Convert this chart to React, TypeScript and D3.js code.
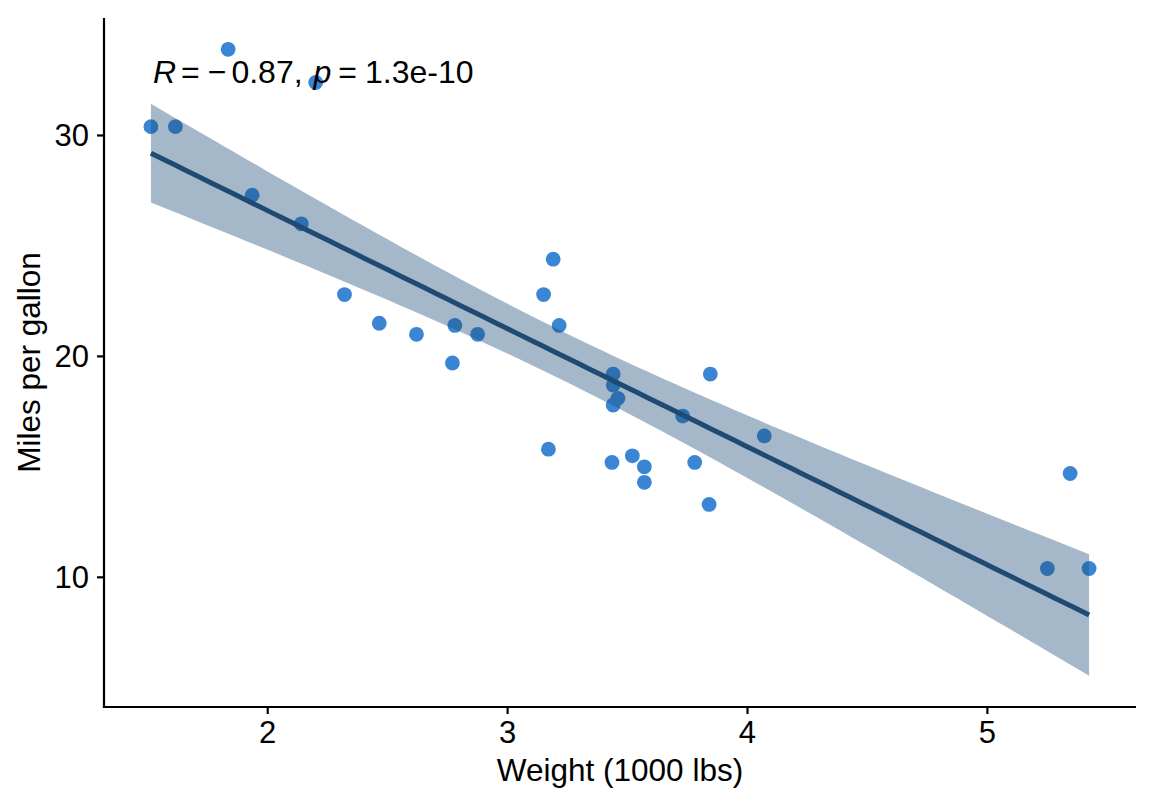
import React from "react";
import * as d3 from "d3";

// mtcars: weight (1000 lbs) and fuel economy (mpg)
const carNames = [
  "Mazda RX4", "Mazda RX4 Wag", "Datsun 710", "Hornet 4 Drive", "Hornet Sportabout",
  "Valiant", "Duster 360", "Merc 240D", "Merc 230", "Merc 280", "Merc 280C",
  "Merc 450SE", "Merc 450SL", "Merc 450SLC", "Cadillac Fleetwood", "Lincoln Continental",
  "Chrysler Imperial", "Fiat 128", "Honda Civic", "Toyota Corolla", "Toyota Corona",
  "Dodge Challenger", "AMC Javelin", "Camaro Z28", "Pontiac Firebird", "Fiat X1-9",
  "Porsche 914-2", "Lotus Europa", "Ford Pantera L", "Ferrari Dino", "Maserati Bora",
  "Volvo 142E",
];
const weights = [
  2.62, 2.875, 2.32, 3.215, 3.44, 3.46, 3.57, 3.19, 3.15, 3.44, 3.44, 4.07, 3.73, 3.78,
  5.25, 5.424, 5.345, 2.2, 1.615, 1.835, 2.465, 3.52, 3.435, 3.84, 3.845, 1.935, 2.14,
  1.513, 3.17, 2.77, 3.57, 2.78,
];
const mpgValues = [
  21.0, 21.0, 22.8, 21.4, 18.7, 18.1, 14.3, 24.4, 22.8, 19.2, 17.8, 16.4, 17.3, 15.2,
  10.4, 10.4, 14.7, 32.4, 30.4, 33.9, 21.5, 15.5, 15.2, 13.3, 19.2, 27.3, 26.0, 30.4,
  15.8, 19.7, 15.0, 21.4,
];
const xTicks = [2, 3, 4, 5];
const yTicks = [10, 20, 30];
const corLabel = { r: "0.87", p: "1.3e-10" };

const W = 1152;
const H = 806;
const margin = { left: 104, right: 16, top: 18, bottom: 99 };
const FONT = "'Liberation Sans', Arial, Helvetica, sans-serif";

// Ordinary least squares fit with a 95% confidence band
const n = weights.length;
const xMean = d3.mean(weights)!;
const yMean = d3.mean(mpgValues)!;
const sxx = d3.sum(weights, (x) => (x - xMean) ** 2);
const sxy = d3.sum(weights, (x, i) => (x - xMean) * (mpgValues[i] - yMean));
const slope = sxy / sxx;
const intercept = yMean - slope * xMean;
const rss = d3.sum(weights, (x, i) => (mpgValues[i] - (intercept + slope * x)) ** 2);
const sigma = Math.sqrt(rss / (n - 2));
const tCrit = 2.042272; // t(0.975, df = 30)

const [xMin, xMax] = d3.extent(weights) as [number, number];
const fitX = d3.range(80).map((i) => xMin + ((xMax - xMin) * i) / 79);
const fit = fitX.map((x) => {
  const y = intercept + slope * x;
  const se = sigma * Math.sqrt(1 / n + (x - xMean) ** 2 / sxx);
  return { x, y, lo: y - tCrit * se, hi: y + tCrit * se };
});

function expand([a, b]: [number, number]): [number, number] {
  const pad = (b - a) * 0.05;
  return [a - pad, b + pad];
}

export default function App() {
  const x = d3
    .scaleLinear()
    .domain(expand([xMin, xMax]))
    .range([margin.left, W - margin.right]);
  const yLo = Math.min(d3.min(mpgValues)!, d3.min(fit, (d) => d.lo)!);
  const yHi = Math.max(d3.max(mpgValues)!, d3.max(fit, (d) => d.hi)!);
  const y = d3
    .scaleLinear()
    .domain(expand([yLo, yHi]))
    .range([H - margin.bottom, margin.top]);

  const band = d3
    .area<(typeof fit)[number]>()
    .x((d) => x(d.x))
    .y0((d) => y(d.lo))
    .y1((d) => y(d.hi));
  const line = d3
    .line<(typeof fit)[number]>()
    .x((d) => x(d.x))
    .y((d) => y(d.y));

  const x0 = margin.left;
  const y0 = H - margin.bottom;
  const plotMidY = (margin.top + y0) / 2;
  const plotMidX = (margin.left + W - margin.right) / 2;

  return (
    <svg
      width={W}
      height={H}
      style={{ position: "absolute", left: 0, top: 0, background: "#fff" }}
      fontFamily={FONT}
    >
      <rect width={W} height={H} fill="#fff" />
      {/* points */}
      <g>
        {weights.map((w, i) => (
          <circle key={carNames[i]} cx={x(w)} cy={y(mpgValues[i])} r={7.4} fill="#3a86d4" />
        ))}
      </g>
      {/* confidence band and fitted line */}
      <path d={band(fit)!} fill="#1f4e79" fillOpacity={0.4} />
      <path d={line(fit)!} fill="none" stroke="#1f4a73" strokeWidth={5} />

      {/* correlation label */}
      <text x={x(xMin) + 2} y={83} fontSize={32} fill="#000">
        <tspan fontStyle="italic">R</tspan>
        <tspan dx={5}>=</tspan>
        <tspan dx={8}>{"\u2212"}</tspan>
        <tspan dx={5}>{corLabel.r},</tspan>
        <tspan dx={11} fontStyle="italic">p</tspan>
        <tspan dx={7}>=</tspan>
        <tspan dx={8}>{corLabel.p}</tspan>
      </text>

      {/* axes */}
      <g stroke="#000" strokeWidth={2.2}>
        <line x1={x0} x2={x0} y1={margin.top} y2={y0 + 1.1} />
        <line x1={x0 - 1.1} x2={W - margin.right} y1={y0} y2={y0} />
        {xTicks.map((t) => (
          <line key={t} x1={x(t)} x2={x(t)} y1={y0} y2={y0 + 7} />
        ))}
        {yTicks.map((t) => (
          <line key={t} x1={x0 - 7} x2={x0} y1={y(t)} y2={y(t)} />
        ))}
      </g>
      <g fontSize={31} fill="#000">
        {xTicks.map((t) => (
          <text key={t} x={x(t)} y={y0 + 36} textAnchor="middle">
            {t}
          </text>
        ))}
        {yTicks.map((t) => (
          <text key={t} x={x0 - 15} y={y(t) + 11} textAnchor="end">
            {t}
          </text>
        ))}
      </g>
      <text x={plotMidX} y={781} fontSize={31.5} textAnchor="middle" fill="#000">
        Weight (1000 lbs)
      </text>
      <text
        transform={`translate(40,${plotMidY}) rotate(-90)`}
        fontSize={31.5}
        textAnchor="middle"
        fill="#000"
      >
        Miles per gallon
      </text>
    </svg>
  );
}
